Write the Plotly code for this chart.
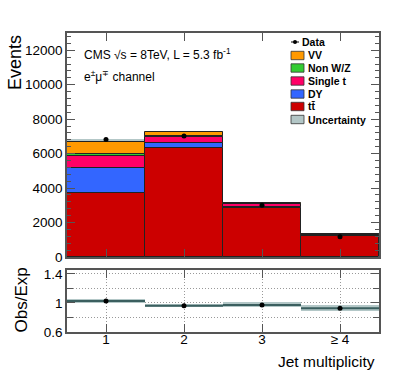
import numpy as np
import plotly.graph_objects as go
from plotly.subplots import make_subplots

# jet multiplicity bins
bins = [1, 2, 3, 4]
bin_labels = ["1", "2", "3", "≥ 4"]

# stacked expectation (events), bottom to top
ttbar = [3700, 6320, 2840, 1220]
dy = [1450, 300, 80, 20]
single_t = [720, 370, 150, 60]
non_wz = [90, 60, 20, 10]
vv = [690, 210, 40, 20]
mc_unc = [190, 60, 40, 30]

data = [6820, 7020, 3000, 1180]

# ratio panel
ratio = [1.025, 0.96, 0.97, 0.925]
ratio_err = [0.03, 0.025, 0.035, 0.04]

main_ticks = [0, 2000, 4000, 6000, 8000, 10000, 12000]
ratio_ticks = [0.6, 1.0, 1.4]

FONT = "Liberation Sans, Arial, sans-serif"
FRAME = "#555555"
BAND = "#b3c7c7"
GRID = "#999999"

components = [
    ("tt\u0304", ttbar, "#cc0000"),
    ("DY", dy, "#3366ff"),
    ("Single t", single_t, "#ff0066"),
    ("Non W/Z", non_wz, "#33cc33"),
    ("VV", vv, "#ff9900"),
]

fig = make_subplots(rows=2, cols=1, shared_xaxes=True)

total = np.sum([np.array(c[1], dtype=float) for c in components], axis=0)
unc = np.array(mc_unc, dtype=float)

# uncertainty band under the stack (only the top half stays visible)
fig.add_trace(go.Bar(x=bins, y=2 * unc, base=total - unc, width=1,
                     marker=dict(color=BAND, line=dict(width=0)),
                     showlegend=False), row=1, col=1)

base = np.zeros(len(bins))
for name, vals, color in components:
    vals = np.array(vals, dtype=float)
    fig.add_trace(go.Bar(x=bins, y=vals, base=base.copy(), width=1, name=name,
                         marker=dict(color=color, line=dict(color="#222222", width=1)),
                         showlegend=False), row=1, col=1)
    base += vals

fig.add_trace(go.Scatter(x=bins, y=data, mode="markers",
                         marker=dict(color="black", size=5),
                         error_y=dict(type="data", array=np.sqrt(data), color="black",
                                      thickness=1, width=0),
                         showlegend=False), row=1, col=1)

# ratio panel
r = np.array(ratio)
re = np.array(ratio_err)
fig.add_trace(go.Bar(x=bins, y=2 * re, base=r - re, width=1,
                     marker=dict(color=BAND, line=dict(width=0)),
                     showlegend=False), row=2, col=1)
fig.add_trace(go.Scatter(x=bins, y=ratio, mode="markers",
                         marker=dict(color="black", size=5),
                         error_x=dict(type="constant", value=0.5, color="#3b5f5f",
                                      thickness=2, width=0),
                         showlegend=False), row=2, col=1)

W, H = 399, 383
L, R, T, B = 67, 20, 33, 51
pw, ph = W - L - R, H - T - B


def px(x):
    return (x - L) / pw


def py(y):
    return (H - B - y) / ph


fig.update_layout(
    width=W, height=H, margin=dict(l=L, r=R, t=T, b=B),
    barmode="overlay", bargap=0,
    plot_bgcolor="white", paper_bgcolor="white",
    font=dict(family=FONT, size=13.5, color="black"),
    showlegend=False,
)

axis_common = dict(showline=True, linecolor=FRAME, linewidth=1.5, mirror="ticks",
                   ticks="inside", tickcolor=FRAME, zeroline=False)

fig.update_xaxes(range=[0.5, 4.5], tickvals=bins, ticklen=8, showgrid=False,
                 **axis_common)
fig.update_xaxes(showticklabels=False, row=1, col=1)
fig.update_xaxes(ticktext=bin_labels, showticklabels=True, showgrid=True,
                 ticklabelstandoff=-6,
                 gridcolor=GRID, griddash="1px,2px", gridwidth=1, row=2, col=1)

fig.update_yaxes(range=[0, 13000], tickvals=main_ticks,
                 ticktext=[str(v) for v in main_ticks],
                 ticklen=8, showgrid=False,
                 minor=dict(dtick=400, ticklen=4, ticks="inside", tickcolor=FRAME),
                 domain=[py(257), 1], **axis_common, row=1, col=1)
fig.update_yaxes(range=[0.597, 1.452], tickvals=ratio_ticks,
                 ticktext=["0.6", "1", "1.4"], ticklen=8,
                 showgrid=True, gridcolor=GRID, griddash="1px,2px", gridwidth=1,
                 minor=dict(dtick=0.2, ticklen=6, ticks="inside", tickcolor=FRAME,
                            showgrid=True, gridcolor=GRID, griddash="1px,2px"),
                 domain=[0, py(270)], **axis_common, row=2, col=1)

ann = []
ann.append(dict(x=px(82), y=py(54), xref="paper", yref="paper", xanchor="left",
                yanchor="middle", showarrow=False,
                text="CMS \u221as = 8TeV, L = 5.3 fb<sup>-1</sup>", font=dict(size=12)))
ann.append(dict(x=px(82), y=py(76), xref="paper", yref="paper", xanchor="left",
                yanchor="middle", showarrow=False,
                text="e<sup>\u00b1</sup>\u03bc<sup>\u2213</sup> channel", font=dict(size=12)))
ann.append(dict(x=px(14.5), y=1, xref="paper", yref="paper", xanchor="center",
                yanchor="top", showarrow=False, textangle=-90, text="Events",
                font=dict(size=18)))
ann.append(dict(x=px(21), y=py(300.5), xref="paper", yref="paper", xanchor="center",
                yanchor="middle", showarrow=False, textangle=-90, text="Obs/Exp",
                font=dict(size=17)))
ann.append(dict(x=px(377), y=py(361), xref="paper", yref="paper", xanchor="right",
                yanchor="middle", showarrow=False, text="Jet multiplicity",
                font=dict(size=15.5)))

# hand-made legend (ROOT style, tight spacing)
legend_rows = [("Data", None, 42)]
legend_rows += [("VV", "#ff9900", 55.5), ("Non W/Z", "#33cc33", 68),
                ("Single t", "#ff0066", 81), ("DY", "#3366ff", 94),
                ("tt\u0304", "#cc0000", 106.5), ("Uncertainty", BAND, 119.5)]
shapes = []
for label, color, yc in legend_rows:
    if color is None:
        shapes.append(dict(type="line", xref="paper", yref="paper",
                           x0=px(291), x1=px(299), y0=py(yc), y1=py(yc),
                           line=dict(color="black", width=1)))
        shapes.append(dict(type="circle", xref="paper", yref="paper",
                           x0=px(293), x1=px(297), y0=py(yc + 2), y1=py(yc - 2),
                           fillcolor="black", line=dict(width=0)))
        tx = 300
    else:
        shapes.append(dict(type="rect", xref="paper", yref="paper",
                           x0=px(291), x1=px(304), y0=py(yc + 4.2), y1=py(yc - 4.2),
                           fillcolor=color, line=dict(color="#333333", width=0.8)))
        tx = 306
    ann.append(dict(x=px(tx), y=py(yc), xref="paper", yref="paper", xanchor="left",
                    yanchor="middle", showarrow=False, text="<b>%s</b>" % label,
                    font=dict(size=10.5)))

fig.update_layout(annotations=ann, shapes=shapes)

# drop the default page margin so the figure sits at the window origin
fig.write_html("out.html", config={"displayModeBar": False},
               post_script="document.body.style.margin='0px';")
